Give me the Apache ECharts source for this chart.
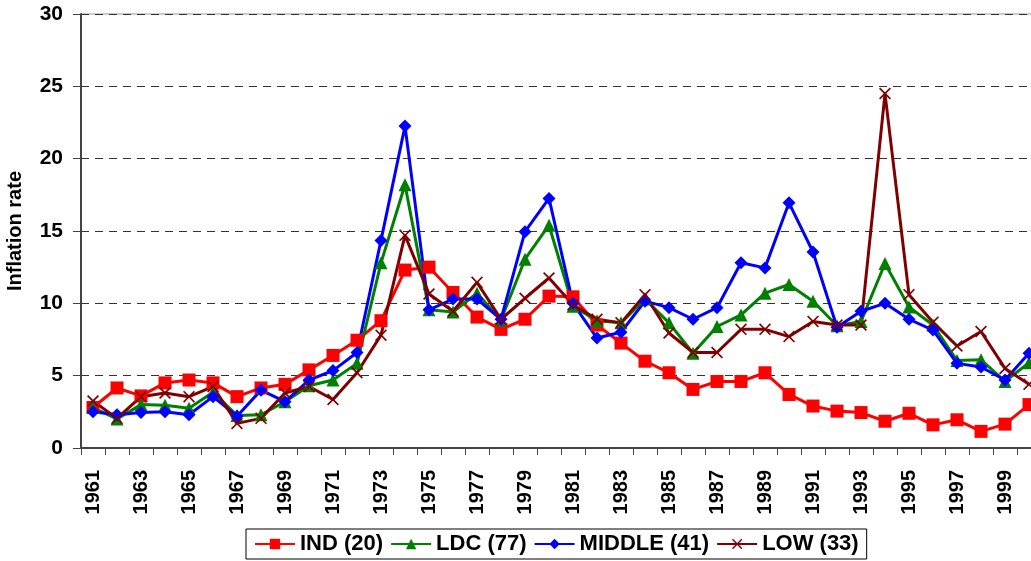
<!DOCTYPE html>
<html>
<head>
<meta charset="utf-8">
<script src="https://cdn.jsdelivr.net/npm/echarts@6/dist/echarts.min.js"></script>
<style>
  html, body { margin: 0; padding: 0; background: #fff; }
  #chart { width: 1031px; height: 561px; }
</style>
</head>
<body>
<div id="chart"></div>
<script>
// years 1961..2000
const years = ['1961','1962','1963','1964','1965','1966','1967','1968','1969','1970',
  '1971','1972','1973','1974','1975','1976','1977','1978','1979','1980',
  '1981','1982','1983','1984','1985','1986','1987','1988','1989','1990',
  '1991','1992','1993','1994','1995','1996','1997','1998','1999','2000']

const indValues = [2.8, 4.15, 3.6, 4.5, 4.7, 4.5, 3.55, 4.15, 4.4, 5.4,
  6.4, 7.45, 8.8, 12.3, 12.5, 10.75, 9.05, 8.2, 8.9, 10.5,
  10.45, 8.5, 7.25, 6.0, 5.2, 4.05, 4.6, 4.6, 5.2, 3.7,
  2.9, 2.55, 2.45, 1.85, 2.4, 1.6, 1.95, 1.15, 1.65, 3.0]

const ldcValues = [2.8, 2.0, 3.0, 2.95, 2.75, 3.85, 2.25, 2.3, 3.2, 4.3,
  4.7, 5.85, 12.8, 18.2, 9.55, 9.4, 10.7, 8.85, 13.05, 15.4,
  9.8, 8.8, 8.65, 10.3, 8.65, 6.55, 8.4, 9.2, 10.7, 11.3,
  10.15, 8.45, 8.75, 12.75, 9.75, 8.5, 6.05, 6.1, 4.6, 5.9]

const middleValues = [2.5, 2.3, 2.45, 2.5, 2.3, 3.55, 2.2, 4.0, 3.2, 4.7,
  5.35, 6.6, 14.35, 22.25, 9.55, 10.3, 10.3, 8.9, 14.95, 17.25,
  10.0, 7.6, 8.0, 10.15, 9.7, 8.9, 9.7, 12.8, 12.45, 16.95,
  13.55, 8.35, 9.45, 10.0, 8.9, 8.15, 5.85, 5.6, 4.7, 6.55]

const lowValues = [3.25, 2.05, 3.55, 3.8, 3.55, 4.25, 1.7, 2.05, 3.8, 4.25,
  3.35, 5.2, 7.8, 14.7, 10.65, 9.45, 11.45, 8.9, 10.35, 11.75,
  9.9, 8.9, 8.65, 10.6, 7.95, 6.6, 6.6, 8.2, 8.2, 7.7,
  8.75, 8.5, 8.5, 24.5, 10.6, 8.7, 7.05, 8.05, 5.5, 4.4]

const seriesNames = ['IND (20)', 'LDC (77)', 'MIDDLE (41)', 'LOW (33)']
const yTicks = [0, 5, 10, 15, 20, 25, 30]

const fontFamily = '"Liberation Sans", Arial, sans-serif'
const crossPath = 'path://M0,1L1,0L5,4L9,0L10,1L6,5L10,9L9,10L5,6L1,10L0,9L4,5Z'

function makeSeries(name, data, color, symbol, size) {
  return {
    name,
    type: 'line',
    data,
    symbol,
    symbolSize: size,
    showAllSymbol: true,
    lineStyle: { color, width: 3 },
    itemStyle: { color },
    emphasis: { disabled: true },
    animation: false
  }
}

const chart = echarts.init(document.getElementById('chart'))

chart.setOption({
  backgroundColor: '#fff',
  textStyle: { fontFamily },
  grid: {
    left: 81,
    top: 14,
    right: -10,
    bottom: 113,
    outerBoundsMode: 'none',
    containLabel: false,
    show: true,
    borderColor: '#999',
    borderWidth: 1
  },
  legend: {
    bottom: 2,
    left: 246,
    data: seriesNames,
    itemWidth: 40,
    itemHeight: 13,
    itemGap: 7,
    padding: [4, 8, 4, 8],
    borderColor: '#000',
    borderWidth: 1,
    textStyle: { fontSize: 22, fontWeight: 'bold', color: '#000', fontFamily }
  },
  xAxis: {
    type: 'category',
    data: years,
    boundaryGap: true,
    axisLine: { lineStyle: { color: '#444', width: 2 } },
    axisTick: { show: true, interval: 0, length: 7, lineStyle: { color: '#444' } },
    axisLabel: {
      interval: 1,
      rotate: 90,
      margin: 22,
      fontSize: 20,
      fontWeight: 'bold',
      color: '#000'
    },
    splitLine: { show: false }
  },
  yAxis: {
    type: 'value',
    min: yTicks[0],
    max: yTicks[yTicks.length - 1],
    interval: 5,
    name: 'Inflation rate',
    nameLocation: 'middle',
    nameGap: 56,
    nameTextStyle: { fontSize: 20, fontWeight: 'bold', color: '#000' },
    axisLine: { show: true, lineStyle: { color: '#444', width: 2 } },
    axisTick: { show: true, inside: false, length: 8, lineStyle: { color: '#444' } },
    axisLabel: { margin: 18, fontSize: 21, fontWeight: 'bold', color: '#000' },
    splitLine: { show: true, lineStyle: { color: '#333', type: [8, 6], width: 1 } }
  },
  series: [
    makeSeries(seriesNames[0], indValues, '#FF0000', 'rect', 13),
    makeSeries(seriesNames[1], ldcValues, '#008000', 'triangle', 13),
    makeSeries(seriesNames[2], middleValues, '#0000FF', 'diamond', 13),
    makeSeries(seriesNames[3], lowValues, '#800000', crossPath, 12)
  ]
})
</script>
</body>
</html>
